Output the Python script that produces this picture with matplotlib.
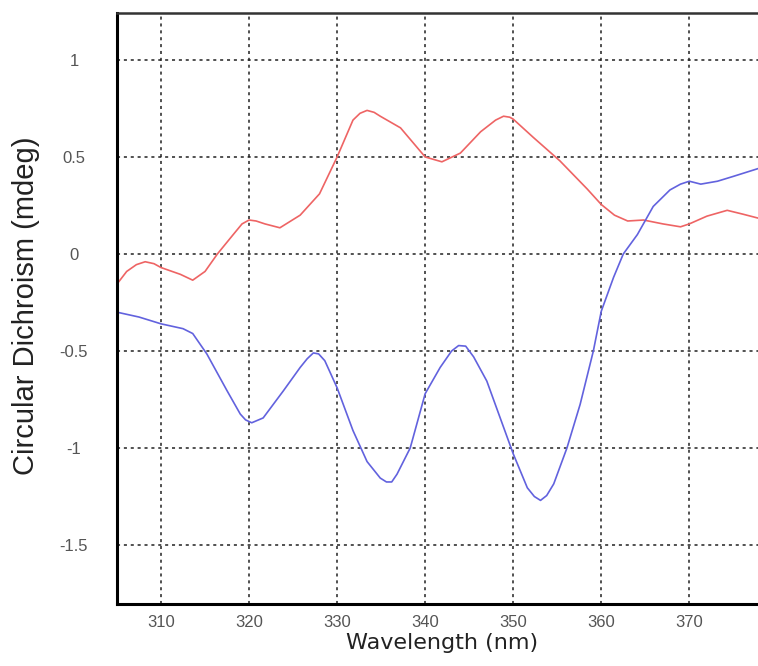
import matplotlib
matplotlib.use("Agg")
import matplotlib.pyplot as plt

# red trace (wavelength nm, CD mdeg)
red_x = [305, 306.1, 307.2, 308.2, 309.2, 310, 312.2, 313.6, 315, 316.4, 318.2, 319.2, 320,
         320.8, 321.8, 323.5, 325.8, 328, 330, 331.8, 332.6, 333.4, 334.2, 334.9, 337.2,
         340, 341.9, 344, 346.3, 348, 348.9, 349.6, 350, 352.3, 355.3, 358.4, 360, 361.5,
         363, 364.8, 367, 369, 370, 372, 374.3, 376.1, 377.8]
red_y = [-0.155, -0.09, -0.055, -0.04, -0.05, -0.07, -0.105, -0.135, -0.09, 0.0, 0.1, 0.155, 0.175,
         0.17, 0.155, 0.135, 0.2, 0.31, 0.5, 0.69, 0.725, 0.74, 0.73, 0.71, 0.65,
         0.5, 0.475, 0.52, 0.63, 0.69, 0.71, 0.705, 0.695, 0.6, 0.48, 0.335, 0.255, 0.2,
         0.17, 0.175, 0.155, 0.14, 0.155, 0.195, 0.225, 0.205, 0.185]

# blue trace
blue_x = [305, 307.5, 310, 312.5, 313.6, 315.2, 317.5, 319, 319.6, 320.3, 321.6, 323.9, 325.8,
          326.6, 327.3, 327.9, 328.6, 330, 331.8, 333.4, 334.9, 335.6, 336.2, 336.8, 338.3,
          340, 341.7, 343, 343.8, 344.6, 345.5, 347, 350, 351.6, 352.4, 353.1, 353.8, 354.6,
          356.1, 357.6, 359.1, 360, 361.4, 362.5, 364.1, 365.9, 367.8, 369, 370, 371.3,
          373.2, 375, 377.8]
blue_y = [-0.3, -0.325, -0.36, -0.385, -0.41, -0.515, -0.705, -0.825, -0.855, -0.87, -0.845, -0.705, -0.585,
          -0.54, -0.51, -0.515, -0.55, -0.69, -0.91, -1.07, -1.155, -1.175, -1.175, -1.135, -1.0,
          -0.72, -0.585, -0.5, -0.472, -0.475, -0.53, -0.655, -1.03, -1.205, -1.25, -1.27, -1.245, -1.185,
          -1.0, -0.775, -0.5, -0.295, -0.12, 0.0, 0.1, 0.245, 0.33, 0.36, 0.375, 0.36,
          0.375, 0.4, 0.44]

x_ticks = [310, 320, 330, 340, 350, 360, 370]
y_ticks = [-1.5, -1, -0.5, 0, 0.5, 1]
y_tick_labels = ["-1.5", "-1", "-0.5", "0", "0.5", "1"]

fig = plt.figure(figsize=(7.58, 6.66), dpi=100)
ax = fig.add_axes([117 / 758, 62 / 666, 641 / 758, 591 / 666])

ax.plot(red_x, red_y, color="#ee6464", linewidth=1.2)
ax.plot(blue_x, blue_y, color="#6262de", linewidth=1.2)

ax.set_xlim(305, 377.8)
ax.set_ylim(-1.804, 1.242)
ax.set_xticks(x_ticks)
ax.set_yticks(y_ticks)
ax.set_yticklabels(y_tick_labels)

ax.grid(True, color="#222222", linestyle=(0, (2, 2.5)), linewidth=1.1)
ax.set_axisbelow(True)

ax.tick_params(length=0, labelsize=12, labelcolor="#555555")
ax.tick_params(axis="x", pad=8)
ax.tick_params(axis="y", pad=31)
for lab in ax.get_xticklabels() + ax.get_yticklabels():
    lab.set_family("Liberation Sans")
for lab in ax.get_yticklabels():
    lab.set_horizontalalignment("center")

ax.spines["right"].set_visible(False)
ax.spines["left"].set_linewidth(2.2)
ax.spines["bottom"].set_linewidth(2.2)
ax.spines["top"].set_linewidth(1.8)
ax.spines["top"].set_color("#333333")

ax.set_xlabel("Wavelength (nm)", fontsize=16, family="DejaVu Sans", color="#222222")
ax.xaxis.set_label_coords(0.507, -0.066)
ax.xaxis.label.set_verticalalignment("center")
ax.set_ylabel("Circular Dichroism (mdeg)", fontsize=21, family="Liberation Sans", color="#222222")
ax.yaxis.set_label_coords(-0.142, 0.505)
ax.yaxis.label.set_verticalalignment("center")

plt.savefig("out.png", dpi=100)
